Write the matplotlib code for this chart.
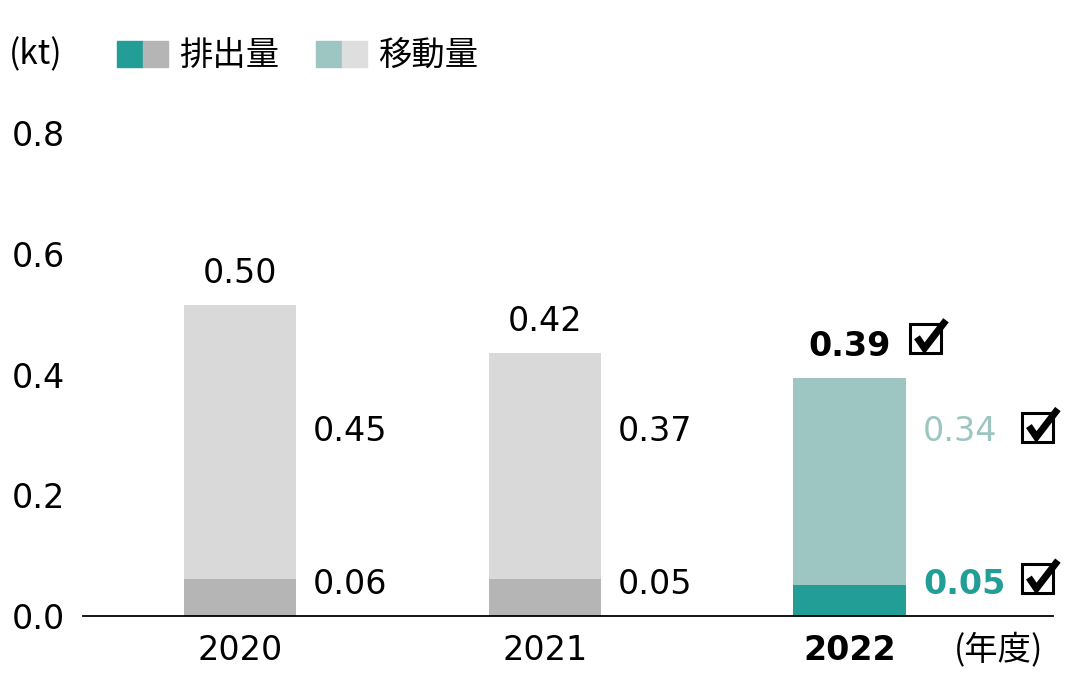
import matplotlib.pyplot as plt
from matplotlib.patches import Rectangle
from matplotlib.transforms import ScaledTranslation

plt.rcParams['font.family'] = ['DejaVu Sans', 'Noto Sans CJK JP']

years = ['2020', '2021', '2022']
emission = [0.061, 0.061, 0.051]
transfer = [0.454, 0.375, 0.343]
total_labels = ['0.50', '0.42', '0.39']
emission_labels = ['0.06', '0.05', '0.05']
transfer_labels = ['0.45', '0.37', '0.34']

TEAL = '#239e97'
GRAY = '#b4b5b4'
LTEAL = '#9dc5c1'
LGRAY = '#d9d9d9'
FS = 24
CJK = 'Noto Sans CJK JP'

fig = plt.figure(figsize=(10.92, 6.96), dpi=100)
ax = fig.add_axes([83 / 1092, 80 / 696, 970 / 1092, 483 / 696])

x = list(range(len(years)))
w = 0.37
em_col = [GRAY, GRAY, TEAL]
tr_col = [LGRAY, LGRAY, LTEAL]
ax.bar(x, emission, w, color=em_col)
ax.bar(x, transfer, w, bottom=emission, color=tr_col)

ax.set_xlim(-0.515, 2.666)
ax.set_ylim(0, 0.8)
for s in ['top', 'right', 'left']:
    ax.spines[s].set_visible(False)
ax.spines['bottom'].set_linewidth(1.3)
ax.set_yticks([0, 0.2, 0.4, 0.6, 0.8])
ax.set_yticklabels(['0.0', '0.2', '0.4', '0.6', '0.8'], fontsize=FS)
ax.tick_params(axis='y', length=0, pad=13)
ax.set_xticks(x)
ax.set_xticklabels(years, fontsize=FS)
ax.tick_params(axis='x', length=0, pad=13)
ax.get_xticklabels()[2].set_fontweight('bold')


def check(xd, yd):
    # box with a heavy tick, sized in inches around a data anchor
    tr = fig.dpi_scale_trans + ScaledTranslation(xd, yd, ax.transData)
    ax.add_patch(Rectangle((0, -0.145), 0.31, 0.29, fill=False, lw=2.2,
                           ec='black', transform=tr, clip_on=False))
    ax.plot([0.07, 0.145, 0.36], [0.01, -0.10, 0.18], color='black', lw=5,
            solid_capstyle='butt', solid_joinstyle='miter',
            transform=tr, clip_on=False)


for i in x:
    top = emission[i] + transfer[i]
    bold = i == 2
    ax.text(i, top + 0.025, total_labels[i], ha='center', va='bottom',
            fontsize=FS, fontweight='bold' if bold else 'normal', color='black')
    ax.text(i + 0.24, 0.306, transfer_labels[i], ha='left', va='center',
            fontsize=FS, color=LTEAL if bold else 'black')
    ax.text(i + 0.24, 0.053, emission_labels[i], ha='left', va='center',
            fontsize=FS, fontweight='bold' if bold else 'normal',
            color=TEAL if bold else 'black')

check(2.197, 0.46)
check(2.564, 0.313)
check(2.564, 0.062)

fig.text(954 / 1092, 1 - 650 / 696, '(年度)', fontsize=FS, va='center',
         ha='left', family=CJK)
fig.text(9 / 1092, 1 - 55 / 696, '(kt)', fontsize=FS, va='center',
         ha='left', family=CJK)

# legend
legend_items = [('排出量', TEAL, GRAY, 117), ('移動量', LTEAL, '#dddedd', 316)]
for name, c1, c2, px in legend_items:
    fig.patches.append(Rectangle((px / 1092, 1 - 67 / 696), 26 / 1092, 26 / 696,
                                 color=c1, transform=fig.transFigure))
    fig.patches.append(Rectangle(((px + 26) / 1092, 1 - 67 / 696), 25 / 1092, 26 / 696,
                                 color=c2, transform=fig.transFigure))
    fig.text((px + 62) / 1092, 1 - 55 / 696, name, fontsize=FS, va='center',
             ha='left', family=CJK)

fig.savefig('out.png', dpi=100)
